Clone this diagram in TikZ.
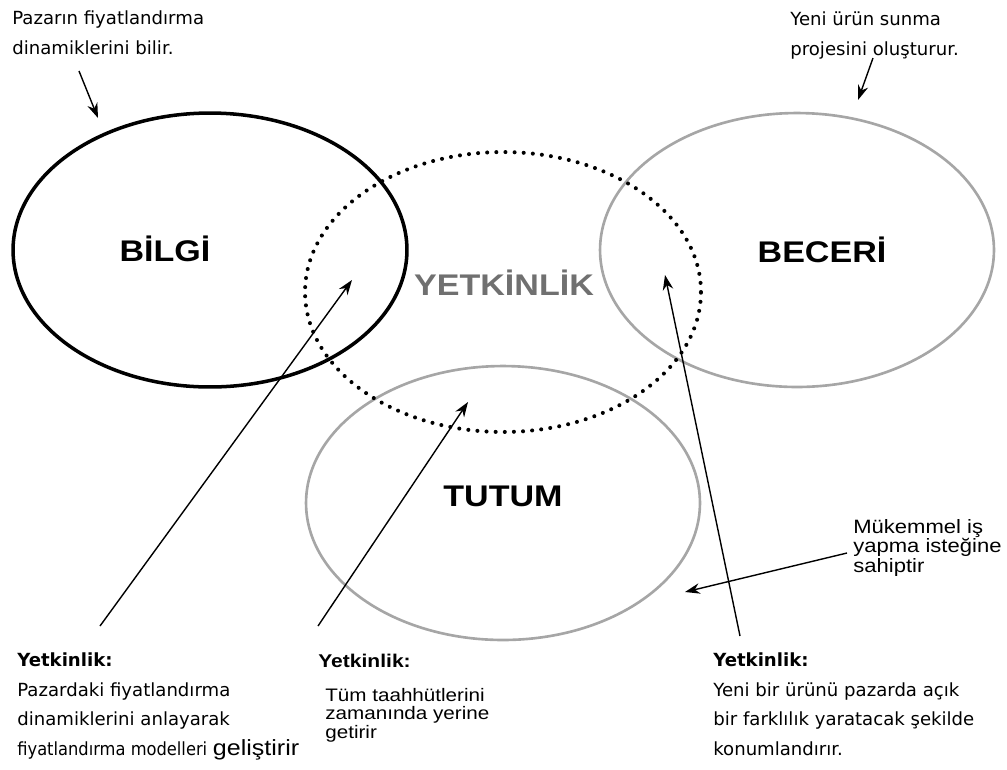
\documentclass[tikz,border=0pt]{standalone}
\usepackage{fontspec}
\setmainfont{DejaVu Sans}
\newfontfamily\arialfont[FakeStretch=1.14]{Liberation Sans}
\usepackage{graphicx}
\usepackage{xcolor}
\definecolor{ringGray}{HTML}{A6A6A6}
\definecolor{wordGray}{HTML}{707070}
\usepackage{tikz}
\usetikzlibrary{arrows.meta, shapes.geometric}

\begin{document}
\begin{tikzpicture}[
  x=0.02cm, y=-0.02cm,
  every node/.style={inner sep=0pt},
  ring/.style={ellipse, minimum width=7.88cm, minimum height=5.48cm},
  bigword/.style={font=\arialfont\bfseries\fontsize{17}{20}\selectfont},
  note/.style={anchor=base west, align=left,
               font=\fontsize{10.3}{16.7}\selectfont},
  anote/.style={anchor=base west, align=left,
                font=\arialfont\fontsize{10.3}{10.5}\selectfont},
  pointer/.style={-{Stealth[length=8.5pt,width=6pt]}, line width=0.8pt}
]
\useasboundingbox (0,0) rectangle (1007,769);

% the four rings
\node[ring, draw=black, line width=2pt] (bilgi) at (210,250) {};
\node[ring, draw=ringGray, line width=1.5pt] (beceri) at (797,250) {};
\node[ring, draw=ringGray, line width=1.5pt] (tutum) at (503,503) {};
\node[ring, minimum width=7.92cm, minimum height=5.6cm, draw=black,
      line width=2.3pt, line cap=round, dash pattern=on 0pt off 5.2pt]
  (yetkin) at (503,292) {};

\node[bigword] (bilgiWord) at (165,249) {BİLGİ};
\node[bigword] (beceriWord) at (822,250) {BECERİ};
\node[bigword] (tutumWord) at (503,496) {TUTUM};
\node[bigword, color=wordGray] (yetWord) at (504,283) {YETKİNLİK};

% notes at the top (placed at their last baseline)
\node[note] (pazarNote) at (12,54)
  {Pazarın fiyatlandırma\\dinamiklerini bilir.};
\node[note] (yeniNote) at (790,55)
  {Yeni ürün sunma\\projesini oluşturur.};

% note on the right
\node[anote, font=\arialfont\fontsize{11}{11.1}\selectfont] (mukNote) at (853,572)
  {Mükemmel iş\\yapma isteğine\\sahiptir};

% notes at the bottom
\node[note] (pazarYet) at (17,755)
  {\textbf{Yetkinlik:}\\Pazardaki fiyatlandırma\\dinamiklerini anlayarak\\
   \scalebox{0.9}[1]{fiyatlandırma modelleri} {\arialfont\fontsize{12.5}{16}\selectfont geliştirir}};
\node[anote, font=\arialfont\bfseries\fontsize{10.5}{12}\selectfont]
  (tumHead) at (318,667) {Yetkinlik:};
\node[anote] (tumYet) at (325,738)
  {Tüm taahhütlerini\\zamanında yerine\\getirir};
\node[note] (yeniYet) at (713,755)
  {\textbf{Yetkinlik:}\\Yeni bir ürünü pazarda açık\\
   bir farklılık yaratacak şekilde\\konumlandırır.};

% arrow ends
\coordinate (pzTail) at (79,71);    \coordinate (pzTip) at (98,118);
\coordinate (urTail) at (873,58);   \coordinate (urTip) at (858,100);
\coordinate (lfTail) at (100,626);  \coordinate (lfTip) at (352,280);
\coordinate (mdTail) at (318,626);  \coordinate (mdTip) at (468,402);
\coordinate (rtTail) at (740,636);  \coordinate (rtTip) at (665,275);
\coordinate (mkTail) at (847,553);  \coordinate (mkTip) at (685,592);

\draw[pointer] (pzTail) -- (pzTip);
\draw[pointer] (urTail) -- (urTip);
\draw[pointer] (lfTail) -- (lfTip);
\draw[pointer] (mdTail) -- (mdTip);
\draw[pointer] (rtTail) -- (rtTip);
\draw[pointer] (mkTail) -- (mkTip);
\end{tikzpicture}
\end{document}
